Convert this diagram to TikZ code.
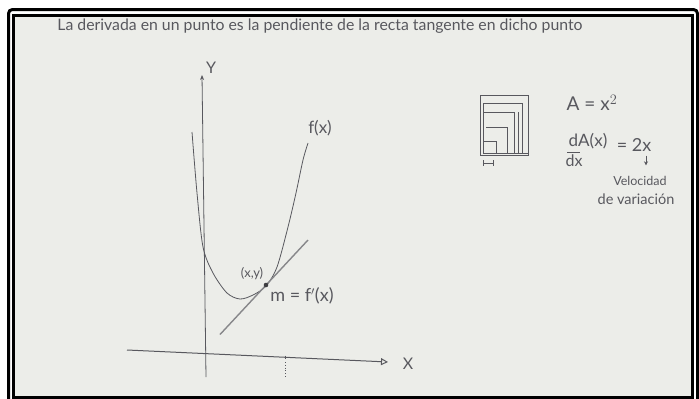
\documentclass[tikz,border=0pt]{standalone}
\usepackage{fontspec}
\setmainfont{Lato}
\usetikzlibrary{arrows.meta,calc}
\definecolor{paper}{RGB}{236,237,233}
\definecolor{ink}{RGB}{88,88,94}
\definecolor{tang}{RGB}{135,135,138}
\begin{document}
\begin{tikzpicture}[x=1pt,y=-1pt,
  inkline/.style={draw=ink,line width=0.8pt},
  handtext/.style={text=ink,inner sep=0pt,font=\fontsize{16}{18}\selectfont},
  smalltext/.style={text=ink,inner sep=0pt,font=\fontsize{13}{15}\selectfont},
]
\useasboundingbox (0,0) rectangle (699,399);
\clip (0,0) rectangle (699,399);
\fill[white] (0,0) rectangle (699,399);
% frames
\draw[line width=3pt,rounded corners=4pt] (8.5,410) -- (8.5,9.5) -- (697.5,9.5) -- (697.5,410);
\filldraw[fill=paper,line width=2.5pt] (13.5,15.5) rectangle (692.5,397.5);

% title
\node[handtext,font=\fontsize{15.8}{18}\selectfont] (title) at (320,26) {La derivada en un punto es la pendiente de la recta tangente en dicho punto};

% axes
\coordinate (ybot) at (206,377);
\coordinate (ytop) at (202,75);
\coordinate (xl) at (127,350);
\coordinate (xr) at (388,362);
\draw[inkline,-{Stealth[length=5pt,width=4pt]}] (ybot) -- (ytop);
\draw[inkline,line width=1pt,-{Triangle[open,length=7pt,width=7pt]}] (xl) -- (xr);
\node[handtext] (ylab) at (211,68) {Y};
\node[handtext] (xlab) at (408,364) {X};
% tick and dotted drop
\coordinate (tk) at (285,357);
\coordinate (tkb) at (285,377);
\draw[inkline] ($(tk)+(0,-1.5)$) -- ($(tk)+(0,1.5)$);
\draw[inkline,dotted] (285,362) -- (tkb);

% curve
\draw[inkline] plot[smooth,tension=0.5] coordinates {(192,132) (197,193) (203,247) (213,273) (227,293) (240,299) (253,295) (266,286) (277,267) (288,227) (296,193) (303,160) (308,143)};
\node[handtext,font=\fontsize{17}{19}\selectfont] (flab) at (320,128) {f(x)};

% tangent
\coordinate (t1) at (220,334.5);
\coordinate (t2) at (308,240);
\draw[tang,line width=1.4pt] (t1) -- (t2);
\fill[ink!70!black] (266,285) circle (2.3pt) coordinate (P);
\node[smalltext] (plab) at (252,274) {(x,y)};
\node[handtext,font=\fontsize{18}{20}\selectfont] (mlab) at (302,296) {m = f$'$(x)};

% nested squares
\draw[inkline] (480,95.5) rectangle (528,155);
\draw[inkline] (483,103.5) -- (483,153);
\draw[inkline] (483,153) -- (528,153);
\draw[inkline] (483,103.5) -- (522,103.5) -- (522,153);
\draw[inkline] (483,112) -- (514,112) -- (514,153);
\draw[inkline] (518,112) -- (518,153);
\draw[inkline] (486,127.5) -- (507,127.5) -- (507,153);
\draw[inkline] (484,141) -- (496,141) -- (496,153);
\draw[inkline] (483,163) -- (493,163);
\draw[inkline] (483,160) -- (483,166);
\draw[inkline] (493,160) -- (493,166);

% formulas
\node[handtext,font=\fontsize{19}{21}\selectfont] (area) at (592,103) {A = x$^{2}$};
\node[handtext,font=\fontsize{17}{19}\selectfont] (num) at (588,141) {dA(x)};
\draw[inkline] (567,152) -- (580,152);
\node[handtext] (den) at (574,161) {dx};
\node[handtext,font=\fontsize{18}{20}\selectfont] (eq) at (634,145) {= 2x};
\node[inner sep=0pt] (arrtop) at (646,155) {};
\node[inner sep=0pt] (arrbot) at (646,166) {};
\draw[inkline,-{Stealth[length=4pt,width=4pt]}] (arrtop) -- (arrbot);
\node[smalltext,font=\fontsize{12.5}{14}\selectfont] (vel) at (640,181) {Velocidad};
\node[smalltext,font=\fontsize{14.5}{16}\selectfont] (var) at (636,199) {de variación};
\end{tikzpicture}
\end{document}
